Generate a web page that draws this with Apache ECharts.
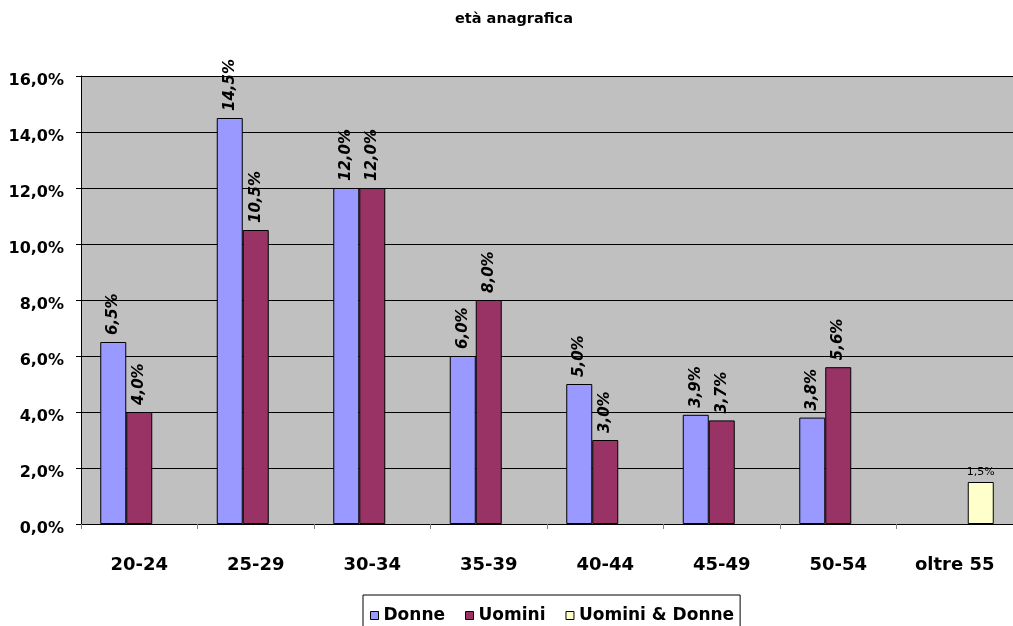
<!DOCTYPE html>
<html>
<head>
<meta charset="utf-8">
<script src="https://cdn.jsdelivr.net/npm/echarts@6/dist/echarts.min.js"></script>
<style>
  html, body { margin: 0; padding: 0; background: #fff; }
  #chart { width: 1013px; height: 626px; }
</style>
</head>
<body>
<div id="chart"></div>
<script>
// Age groups and shares (%) by gender
const categories = ['20-24', '25-29', '30-34', '35-39', '40-44', '45-49', '50-54', 'oltre 55'];
const donne = [6.5, 14.5, 12.0, 6.0, 5.0, 3.9, 3.8, null];
const uomini = [4.0, 10.5, 12.0, 8.0, 3.0, 3.7, 5.6, null];
const uominiDonne = [null, null, null, null, null, null, null, 1.5];
const yTicks = { min: 0, max: 16, interval: 2 };

const fmt = v => v.toFixed(1).replace('.', ',') + '%';
const FONT = '"DejaVu Sans", Verdana, sans-serif';

const rotatedLabel = {
  show: true,
  position: 'top',
  rotate: 90,
  align: 'left',
  verticalAlign: 'middle',
  distance: 7,
  fontFamily: FONT,
  fontSize: 15,
  fontWeight: 'bold',
  fontStyle: 'italic',
  color: '#000',
  formatter: p => fmt(p.value)
};

const chart = echarts.init(document.getElementById('chart'), null, { renderer: 'canvas' });
chart.setOption({
  animation: false,
  backgroundColor: '#fff',
  title: {
    text: 'età anagrafica',
    left: 450,
    top: 7,
    textStyle: { fontFamily: FONT, fontSize: 14.5, fontWeight: 'bold', color: '#000' }
  },
  legend: {
    top: 595,
    left: 363,
    padding: [12, 6, 12, 7],
    borderColor: '#000',
    borderWidth: 1,
    itemWidth: 8,
    itemHeight: 8,
    itemGap: 20,
    icon: 'rect',
    itemStyle: { borderColor: '#000', borderWidth: 1 },
    textStyle: { fontFamily: FONT, fontSize: 17, fontWeight: 'bold', color: '#000' },
    data: ['Donne', 'Uomini', 'Uomini & Donne']
  },
  grid: { left: 81, top: 76, width: 944, height: 448, backgroundColor: '#C0C0C0', show: true, borderWidth: 0 },
  xAxis: {
    type: 'category',
    data: categories,
    axisLine: { lineStyle: { color: '#000', width: 1 } },
    axisTick: { show: true, length: 5, lineStyle: { color: '#808080' } },
    axisLabel: { fontFamily: FONT, fontSize: 18, fontWeight: 'bold', color: '#000', margin: 32 }
  },
  yAxis: {
    type: 'value',
    min: yTicks.min,
    max: yTicks.max,
    interval: yTicks.interval,
    axisLine: { show: true, lineStyle: { color: '#000', width: 1 } },
    axisTick: { show: true, length: 5, lineStyle: { color: '#000' } },
    axisLabel: {
      fontFamily: FONT, fontSize: 16, fontWeight: 'bold', color: '#000',
      margin: 17, formatter: v => '{v|' + fmt(v) + '}',
      rich: { v: { fontFamily: FONT, fontSize: 16, fontWeight: 'bold', color: '#000', padding: [9, 0, 0, 0] } }
    },
    splitLine: { lineStyle: { color: '#000', width: 1 } }
  },
  series: [
    {
      name: 'Donne', type: 'bar', data: donne, barWidth: 26, barGap: '0%',
      itemStyle: { color: '#9999FF', borderColor: '#000', borderWidth: 1 },
      label: rotatedLabel
    },
    {
      name: 'Uomini', type: 'bar', data: uomini, barWidth: 26, barGap: '0%',
      itemStyle: { color: '#993366', borderColor: '#000', borderWidth: 1 },
      label: rotatedLabel
    },
    {
      name: 'Uomini & Donne', type: 'bar', data: uominiDonne, barWidth: 26, barGap: '0%',
      itemStyle: { color: '#FFFFCC', borderColor: '#000', borderWidth: 1 },
      label: {
        show: true, position: 'top', distance: 4,
        fontFamily: FONT, fontSize: 11, fontStyle: 'normal', fontWeight: 'normal', color: '#000',
        formatter: p => fmt(p.value)
      }
    }
  ]
});
</script>
</body>
</html>
